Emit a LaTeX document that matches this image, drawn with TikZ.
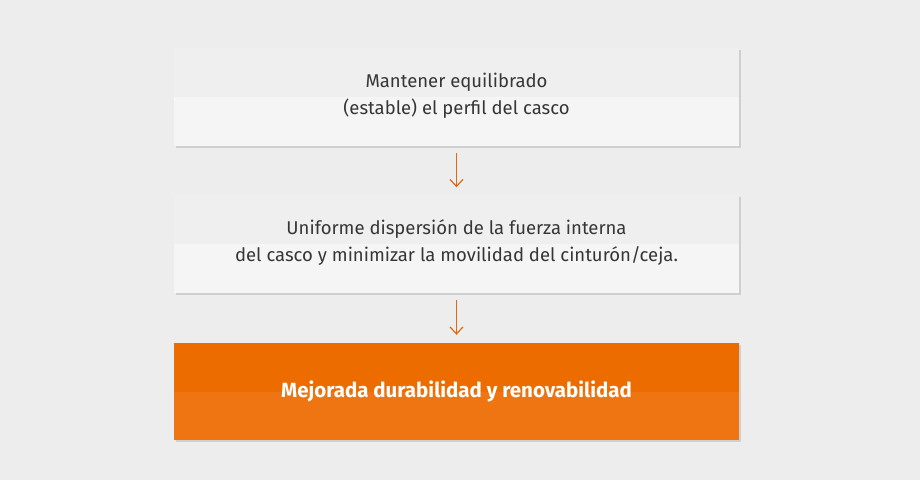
\documentclass[tikz,border=0pt]{standalone}
\usepackage{fontspec}
\setmainfont{Fira Sans}
\usetikzlibrary{arrows.meta}
\definecolor{bgc}{HTML}{EDEDED}
\definecolor{boxtop}{HTML}{EFEFEF}
\definecolor{boxbot}{HTML}{F5F5F5}
\definecolor{shadowc}{HTML}{CFCFCF}
\definecolor{txtc}{HTML}{363636}
\definecolor{orangetop}{HTML}{EC6C00}
\definecolor{orangebot}{HTML}{EE7512}
\definecolor{arrowc}{HTML}{E06A14}
\tikzset{
  boxnode/.style={minimum width=565bp, minimum height=97bp, inner sep=0pt, align=center,
    font=\fontsize{18.5bp}{27bp}\selectfont, text=txtc},
  orangenode/.style={boxnode, text=white, font=\fontsize{20.5bp}{27bp}\selectfont\bfseries},
  flowarrow/.style={draw=arrowc, line width=1.2bp, -{Straight Barb[length=7bp,width=13bp,line width=1.2bp]}},
}
\newcommand{\splitbox}[3]{%
  \fill[shadowc] ([xshift=2bp,yshift=-2bp]#1.south west) rectangle ([xshift=2bp,yshift=-2bp]#1.north east);
  \fill[#2] (#1.north west) rectangle (#1.east);
  \fill[#3] (#1.west) rectangle (#1.south east);
}
\begin{document}
\begin{tikzpicture}[x=1bp,y=-1bp]
\fill[bgc] (0,0) rectangle (920,480);
\useasboundingbox (0,0) rectangle (920,480);
\node[boxnode] (b1) at (456.5,97) {\phantom{X}};
\node[boxnode] (b2) at (456.5,244) {\phantom{X}};
\node[boxnode] (b3) at (456.5,391.5) {\phantom{X}};
\splitbox{b1}{boxtop}{boxbot}
\splitbox{b2}{boxtop}{boxbot}
\splitbox{b3}{orangetop}{orangebot}
\node[boxnode] (t1) at ([yshift=1bp]b1.center) {Mantener equilibrado\\(estable) el perfil del casco};
\node[boxnode] (t2) at ([yshift=1bp]b2.center) {Uniforme dispersión de la fuerza interna\\del casco y minimizar la movilidad del cinturón/ceja.};
\node[orangenode] (t3) at (b3.center) {Mejorada durabilidad y renovabilidad};
\draw[flowarrow] ([yshift=-7bp]b1.south) -- ([yshift=8bp]b2.north);
\draw[flowarrow] ([yshift=-7bp]b2.south) -- ([yshift=8bp]b3.north);
\end{tikzpicture}
\end{document}
